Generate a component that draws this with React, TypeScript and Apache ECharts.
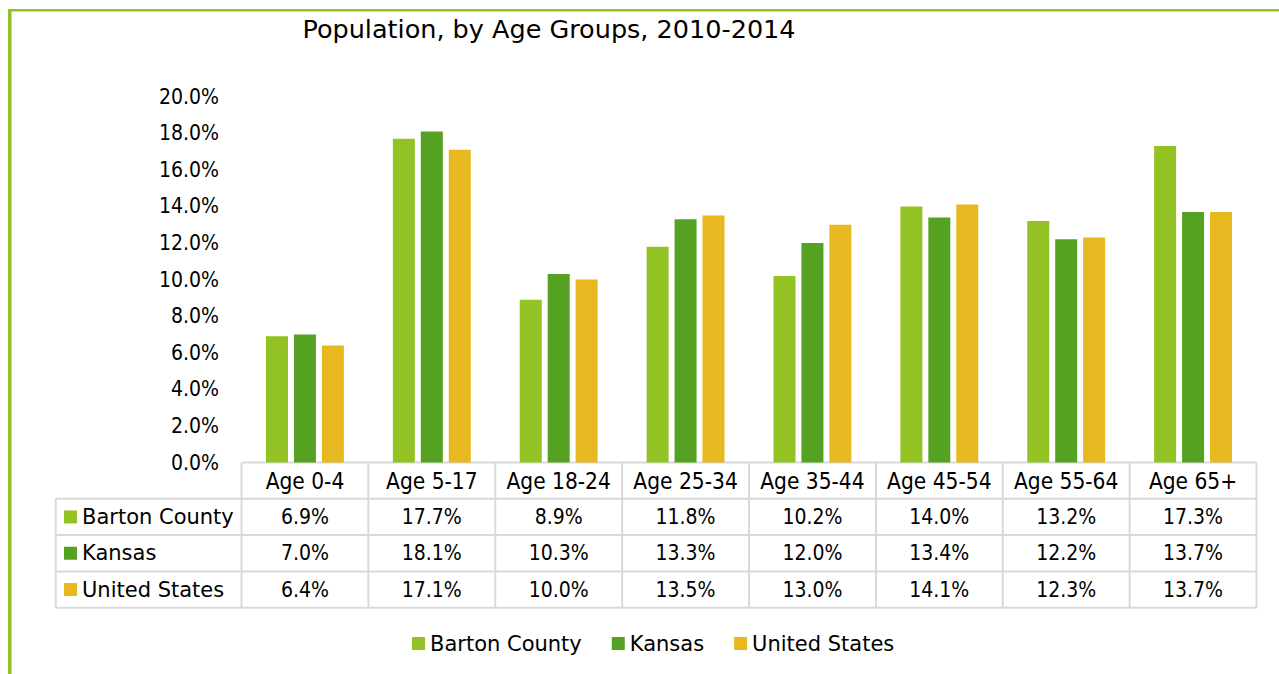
import React, { useEffect, useRef } from "react";
import * as echarts from "echarts";

const categories = ["Age 0-4", "Age 5-17", "Age 18-24", "Age 25-34", "Age 35-44", "Age 45-54", "Age 55-64", "Age 65+"];
const seriesNames = ["Barton County", "Kansas", "United States"];
const bartonCounty = [6.9, 17.7, 8.9, 11.8, 10.2, 14.0, 13.2, 17.3];
const kansas = [7.0, 18.1, 10.3, 13.3, 12.0, 13.4, 12.2, 13.7];
const unitedStates = [6.4, 17.1, 10.0, 13.5, 13.0, 14.1, 12.3, 13.7];
const seriesValues = [bartonCounty, kansas, unitedStates];
const seriesColors = ["#93C225", "#55A222", "#E7B81F"];
const yMin = 0;
const yMax = 20;
const yInterval = 2;
const titleText = "Population, by Age Groups, 2010-2014";

const FONT_NUM = "'DejaVu Sans Condensed', 'DejaVu Sans', sans-serif";
const FONT_TXT = "'DejaVu Sans', sans-serif";
const W = 1279;
const H = 674;
const GRID_L = 241.5;
const GRID_R = 1256.5;
const GRID_T = 96.7;
const GRID_B = 462.5;
const ROW_H = 36.3;
const TABLE_LEFT = 55.7;
const FRAME = "#92C12A";
const LINE = "#D9D9D9";

const pct = (v: number) => v.toFixed(1) + "%";

export default function App() {
  const ref = useRef<HTMLDivElement>(null);
  useEffect(() => {
    document.body.style.margin = "0";
    const chart = echarts.init(ref.current!, null, { renderer: "svg" });
    const colW = (GRID_R - GRID_L) / categories.length;
    const tableBottom = GRID_B + ROW_H * (seriesNames.length + 1);

    const graphics: any[] = [];
    // frame
    graphics.push({ type: "rect", shape: { x: 8, y: 9, width: W - 8, height: 2.5 }, style: { fill: FRAME }, silent: true });
    graphics.push({ type: "rect", shape: { x: 8, y: 9, width: 3.5, height: H - 9 }, style: { fill: FRAME }, silent: true });
    // table horizontal lines
    for (let r = 0; r <= seriesNames.length + 1; r++) {
      const y = GRID_B + r * ROW_H;
      const x1 = r === 0 ? GRID_L : TABLE_LEFT;
      graphics.push({ type: "line", shape: { x1, y1: y, x2: GRID_R, y2: y }, style: { stroke: LINE, lineWidth: 2 }, silent: true });
    }
    // table vertical lines
    for (let c = 0; c <= categories.length; c++) {
      const x = GRID_L + c * colW;
      graphics.push({ type: "line", shape: { x1: x, y1: GRID_B, x2: x, y2: tableBottom }, style: { stroke: LINE, lineWidth: 2 }, silent: true });
    }
    graphics.push({ type: "line", shape: { x1: TABLE_LEFT, y1: GRID_B + ROW_H, x2: TABLE_LEFT, y2: tableBottom }, style: { stroke: LINE, lineWidth: 2 }, silent: true });
    // row labels
    seriesNames.forEach((name, i) => {
      const cy = GRID_B + ROW_H * (i + 1.5);
      graphics.push({ type: "rect", shape: { x: 64, y: cy - 6.5, width: 13, height: 13 }, style: { fill: seriesColors[i] }, silent: true });
      graphics.push({
        type: "text", x: 82, y: cy,
        style: { text: name, fontSize: 21, fontFamily: FONT_TXT, fill: "#000", textAlign: "left", textVerticalAlign: "middle" },
        silent: true,
      });
    });
    // title
    graphics.push({
      type: "text", x: 549, y: 29,
      style: { text: titleText, fontSize: 25.5, fontFamily: FONT_TXT, fill: "#000", textAlign: "center", textVerticalAlign: "middle" },
      silent: true,
    });

    const xAxes: any[] = [
      {
        type: "category", data: categories, position: "bottom", offset: 0,
        axisLine: { show: false }, axisTick: { show: false },
        axisLabel: { fontSize: 22.5, color: "#000", fontFamily: FONT_NUM, verticalAlign: "middle", margin: ROW_H / 2, interval: 0 },
      },
    ];
    seriesValues.forEach((vals, i) => {
      xAxes.push({
        type: "category", data: categories, position: "bottom", offset: ROW_H * (i + 1), gridIndex: 0,
        axisLine: { show: false }, axisTick: { show: false },
        axisLabel: {
          fontSize: 21, color: "#000", fontFamily: FONT_NUM, verticalAlign: "middle", margin: ROW_H / 2, interval: 0,
          formatter: (_v: string, idx: number) => pct(vals[idx]),
        },
      });
    });

    chart.setOption({
      animation: false,
      textStyle: { fontFamily: FONT_NUM },
      grid: { left: GRID_L, right: W - GRID_R, top: GRID_T, bottom: H - GRID_B, containLabel: false },
      legend: {
        data: seriesNames, left: 412, top: 633, padding: 0,
        itemWidth: 13, itemHeight: 13, itemGap: 30, icon: "rect",
        textStyle: { fontSize: 21, color: "#000", fontFamily: FONT_TXT },
        selectedMode: false,
      },
      xAxis: xAxes,
      yAxis: {
        type: "value", min: yMin, max: yMax, interval: yInterval,
        axisLine: { show: false }, axisTick: { show: false }, splitLine: { show: false },
        axisLabel: { fontSize: 21, color: "#000", fontFamily: FONT_NUM, margin: 22.5, formatter: (v: number) => pct(v) },
      },
      series: seriesNames.map((name, i) => ({
        name, type: "bar", xAxisIndex: 0, data: seriesValues[i],
        barWidth: 22, barGap: "27%",
        itemStyle: { color: seriesColors[i] },
      })),
      graphic: graphics,
    });
    return () => chart.dispose();
  }, []);
  return <div ref={ref} style={{ width: W, height: H, overflow: "hidden" }} />;
}
